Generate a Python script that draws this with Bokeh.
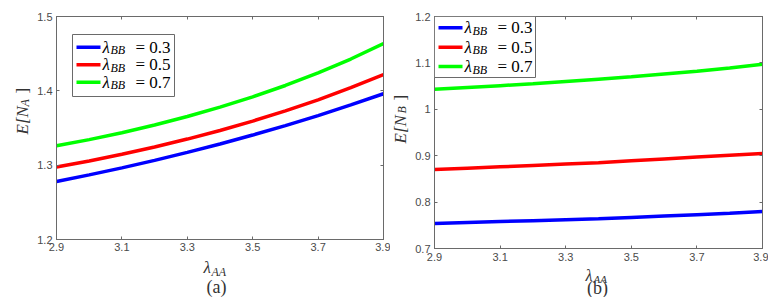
import numpy as np
from bokeh.plotting import figure
from bokeh.models import Label, BoxAnnotation, PolyAnnotation, LinearAxis, FixedTicker, Range1d
from bokeh.layouts import row, column
from bokeh.embed import file_html
from bokeh.resources import INLINE

# ---------------- data ----------------
lambda_aa = [2.9, 3.0, 3.1, 3.2, 3.3, 3.4, 3.5, 3.6, 3.7, 3.8, 3.9]

# panel (a): E[N_A]
ena_bb03 = [1.2780, 1.2869, 1.2964, 1.3065, 1.3172, 1.3285, 1.3405, 1.3532, 1.3667, 1.3810, 1.3961]
ena_bb05 = [1.2975, 1.3057, 1.3147, 1.3245, 1.3351, 1.3467, 1.3593, 1.3730, 1.3879, 1.4042, 1.4219]
ena_bb07 = [1.3260, 1.3344, 1.3437, 1.3540, 1.3654, 1.3780, 1.3919, 1.4072, 1.4241, 1.4428, 1.4635]

# panel (b): E[N_B]
enb_bb03 = [0.754, 0.756, 0.758, 0.760, 0.762, 0.764, 0.767, 0.770, 0.773, 0.776, 0.780]
enb_bb05 = [0.870, 0.873, 0.876, 0.879, 0.882, 0.885, 0.889, 0.893, 0.897, 0.901, 0.905]
enb_bb07 = [1.043, 1.047, 1.051, 1.055, 1.060, 1.065, 1.070, 1.076, 1.082, 1.089, 1.097]

legend_values = ["0.3", "0.5", "0.7"]
series_colors = ["#0000ff", "#ff0000", "#00ff00"]

x_ticks = [2.9, 3.1, 3.3, 3.5, 3.7, 3.9]
x_tick_labels = ["2.9", "3.1", "3.3", "3.5", "3.7", "3.9"]
ya_ticks = [1.2, 1.3, 1.4, 1.5]
ya_tick_labels = ["1.2", "1.3", "1.4", "1.5"]
yb_ticks = [0.7, 0.8, 0.9, 1.0, 1.1, 1.2]
yb_tick_labels = ["0.7", "0.8", "0.9", "1", "1.1", "1.2"]

SERIF = "Liberation Serif"
SANS = "Liberation Sans"
AXC = "#6a6a6a"
TXC = "#4a4a4a"
LABC = "#333333"


def blank(w, h):
    f = figure(width=w, height=h, min_border=0, min_border_left=0, min_border_right=0,
               min_border_top=0, min_border_bottom=0,
               x_range=Range1d(0, w), y_range=Range1d(0, h),
               output_backend="svg", toolbar_location=None,
               x_axis_location=None, y_axis_location=None)
    f.xgrid.visible = False
    f.ygrid.visible = False
    f.outline_line_color = None
    return f


def lab(f, x, y, text, size, italic=False, align="left", angle=0.0, color=LABC):
    f.add_layout(Label(x=x, y=y, x_units="screen", y_units="screen", text=text,
                       text_font=SERIF, text_font_style="italic" if italic else "normal",
                       text_font_size=size, text_color=color, text_align=align,
                       text_baseline="middle", angle=angle))


def panel(series, yticks, ylabels, fw, fh, bl, br, bb, xstd, cfg):
    p = figure(x_range=Range1d(2.9, 3.9), y_range=Range1d(yticks[0], yticks[-1]),
               frame_width=fw, frame_height=fh,
               min_border_left=bl, min_border_right=br, min_border_top=16, min_border_bottom=bb,
               output_backend="svg", toolbar_location=None,
               x_axis_location=None, y_axis_location=None)
    p.xgrid.visible = False
    p.ygrid.visible = False
    p.outline_line_color = AXC
    p.outline_line_width = 1

    for ys, c in zip(series, series_colors):
        p.line(lambda_aa, ys, line_color=c, line_width=3.5)

    def style(ax, show, standoff):
        ax.major_tick_in = 3
        ax.major_tick_out = 0
        ax.minor_tick_line_color = None
        ax.axis_line_color = AXC
        ax.major_tick_line_color = AXC
        ax.major_label_text_font = SANS
        ax.major_label_text_color = TXC
        ax.major_label_standoff = standoff
        ax.major_label_text_font_size = "11px" if show else "0px"

    xb = LinearAxis(ticker=FixedTicker(ticks=x_ticks),
                    major_label_overrides={t: s for t, s in zip(x_ticks, x_tick_labels)})
    style(xb, True, xstd)
    p.add_layout(xb, "below")
    xt = LinearAxis(ticker=FixedTicker(ticks=x_ticks),
                    major_label_overrides={t: "" for t in x_ticks})
    style(xt, False, 0)
    p.add_layout(xt, "above")
    yl = LinearAxis(ticker=FixedTicker(ticks=yticks),
                    major_label_overrides={t: s for t, s in zip(yticks, ylabels)})
    style(yl, True, 4)
    p.add_layout(yl, "left")
    yr = LinearAxis(ticker=FixedTicker(ticks=yticks),
                    major_label_overrides={t: "" for t in yticks})
    style(yr, False, 0)
    p.add_layout(yr, "right")

    # legend
    bx0, bx1, by0, by1 = cfg["box"]
    p.add_layout(BoxAnnotation(left=bx0, right=bx1, bottom=by0, top=by1,
                               left_units="screen", right_units="screen",
                               bottom_units="screen", top_units="screen",
                               fill_color="white", fill_alpha=1.0,
                               line_color=AXC, line_width=1, line_alpha=1.0))
    lx0, lx1 = cfg["line_x"]
    tx = cfg["text_x"]
    for i, (val, c) in enumerate(zip(legend_values, series_colors)):
        cy = cfg["rows"][i]
        p.add_layout(PolyAnnotation(xs=[lx0, lx1], ys=[cy, cy], xs_units="screen", ys_units="screen",
                                    line_color=c, line_width=3.5, line_alpha=1.0, fill_alpha=0))
        lab(p, tx, cy, "λ", "17px", italic=True, color="black")
        lab(p, tx + 8, cy - 3, "BB", "12px", italic=True, color="black")
        lab(p, tx + 33, cy, "= " + val, "17px", color="black")
    return p


# ---------- panel (a) ----------  frame: x 54..381, y 16..239
cfg_a = dict(box=(16, 118, 143, 205), line_x=(20, 44), rows=[192.3, 174.7, 157.3], text_x=46)
pa = panel([ena_bb03, ena_bb05, ena_bb07], ya_ticks, ya_tick_labels,
           327, 223, 20, 7, 18, 3, cfg_a)          # x 34..388, y 0..257
ylab_a = blank(34, 257)                            # x 0..34
lab(ylab_a, 22, 105, "E[N", "17px", italic=True, angle=np.pi / 2)
lab(ylab_a, 24, 133, "A", "12px", italic=True, angle=np.pi / 2)
lab(ylab_a, 22, 146, "]", "17px", angle=np.pi / 2)
xlab_a = blank(388, 40)                            # y 257..297
lab(xlab_a, 203, 30, "λ", "17px", italic=True)
lab(xlab_a, 211, 26, "AA", "12px", italic=True)
lab(xlab_a, 216, 10.5, "(a)", "18px", align="center")

# ---------- panel (b) ----------  frame: x 430..758, y 16..248
cfg_b = dict(box=(0, 101, 171, 232), line_x=(4, 28), rows=[220.7, 201.3, 182.0], text_x=30)
pb = panel([enb_bb03, enb_bb05, enb_bb07], yb_ticks, yb_tick_labels,
           328, 232, 20, 6, 18, 4, cfg_b)          # x 410..764, y 0..266
ylab_b = blank(22, 266)                            # x 388..410
lab(ylab_b, 9.5, 105, "E[N", "17px", italic=True, angle=np.pi / 2)
lab(ylab_b, 11.5, 135, "B", "12px", italic=True, angle=np.pi / 2)
lab(ylab_b, 9.5, 148, "]", "17px", angle=np.pi / 2)
xlab_b = blank(376, 31)                            # y 266..297
lab(xlab_b, 195, 22, "λ", "16px", italic=True)
lab(xlab_b, 203, 19, "AA", "11px", italic=True)
lab(xlab_b, 207, 9.5, "(b)", "18px", align="center")

layout = row(column(row(ylab_a, pa), xlab_a), column(row(ylab_b, pb), xlab_b))
open("out.html", "w").write(file_html(layout, INLINE))
